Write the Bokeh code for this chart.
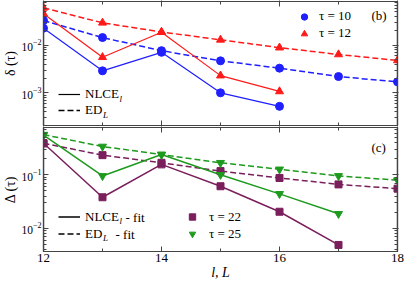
from bokeh.plotting import figure
from bokeh.layouts import column
from bokeh.models import (Legend, LegendItem, Label, LogAxis, LinearAxis,
                          SingleIntervalTicker, LogTicker, Range1d,
                          CustomJSTickFormatter, BoxAnnotation)
from bokeh.embed import file_html
from bokeh.resources import INLINE

# ---------------- data ----------------
l_ed = [12, 13, 14, 15, 16, 17, 18]
l_nlce_b = [12, 13, 14, 15, 16]
l_nlce_c = [12, 13, 14, 15, 16, 17]

b_tau10_nlce = [0.0228, 0.0029, 0.0071, 0.0010, 0.00052]
b_tau10_ed = [0.033, 0.0145, 0.0077, 0.0047, 0.0033, 0.0022, 0.0017]
b_tau12_nlce = [0.046, 0.0056, 0.0188, 0.0023, 0.00107]
b_tau12_ed = [0.061, 0.0296, 0.019, 0.013, 0.0089, 0.0064, 0.0048]

c_tau22_nlce = [0.386, 0.038, 0.156, 0.061, 0.0204, 0.0049]
c_tau22_ed = [0.386, 0.232, 0.167, 0.117, 0.087, 0.066, 0.055]
c_tau25_nlce = [0.55, 0.095, 0.238, 0.100, 0.044, 0.0187]
c_tau25_ed = [0.56, 0.336, 0.238, 0.167, 0.126, 0.095, 0.079]

BLUE = "#1f1fff"
RED = "#ff1a1a"
PURPLE = "#7a1f5c"
GREEN = "#1e9a1e"
AX = "#444444"
FONT = "Liberation Serif"
DASH = "6 3"

FW = 354


def style_axis(ax, labels=True, size="12px"):
    ax.axis_line_color = AX
    ax.axis_line_width = 1.2
    ax.major_tick_line_color = AX
    ax.minor_tick_line_color = AX
    ax.major_tick_in = 5
    ax.major_tick_out = 0
    ax.minor_tick_in = 3
    ax.minor_tick_out = 0
    ax.major_label_text_font = FONT
    ax.major_label_text_color = "black"
    ax.axis_label_text_font = FONT
    ax.axis_label_text_font_style = "normal"
    ax.axis_label_text_color = "black"
    ax.major_label_text_font_size = size
    if labels:
        ax.major_label_standoff = 2
    else:
        ax.formatter = CustomJSTickFormatter(code="return ''")
        ax.major_label_standoff = 0
        ax.major_tick_out = 1
        ax.axis_label = None


def make_fig(yr, fh, top, bottom, ylabel):
    p = figure(frame_width=FW, frame_height=fh, y_axis_type="log",
               x_range=Range1d(12, 18), y_range=Range1d(*yr),
               output_backend="svg", toolbar_location=None,
               min_border_left=43, min_border_right=7,
               min_border_top=top, min_border_bottom=bottom,
               background_fill_color="white")
    p.grid.visible = False
    p.outline_line_color = AX
    p.outline_line_width = 1.2
    p.xaxis.ticker = SingleIntervalTicker(interval=2, num_minor_ticks=2)
    ya = p.left[0]
    ya.ticker = LogTicker(num_minor_ticks=10)
    style_axis(ya, True, "11.5px")
    ya.axis_label = ylabel
    ya.axis_label_text_font_size = "14px"
    ya.axis_label_standoff = 0
    ra = LogAxis(ticker=LogTicker(num_minor_ticks=10))
    style_axis(ra, False)
    p.add_layout(ra, "right")
    ta = LinearAxis(ticker=SingleIntervalTicker(interval=2, num_minor_ticks=2))
    style_axis(ta, False)
    p.add_layout(ta, "above")
    # frame border
    p.add_layout(BoxAnnotation(fill_alpha=0, line_color=AX, line_width=1.2,
                               line_alpha=1))
    return p


def legend(items, loc, gw, standoff, h):
    return Legend(items=items, location=loc, padding=0, margin=0, spacing=0,
                  glyph_width=gw, glyph_height=h, label_height=h,
                  label_standoff=standoff, border_line_alpha=0,
                  background_fill_alpha=0, label_text_font=FONT,
                  label_text_font_size="13px", label_text_color="black")


def lab(p, x, y, text, size="13px", style="normal"):
    p.add_layout(Label(x=x, y=y, x_units="screen", y_units="screen",
                       text=text, text_font=FONT, text_font_size=size,
                       text_font_style=style, text_color="black",
                       text_baseline="middle"))


# ---------------- panel (b) ----------------
pb = make_fig((2.06e-4, 0.083), 124, 1, 0, "δ (τ)")
style_axis(pb.below[0], False)

pb.line(l_nlce_b, b_tau10_nlce, color=BLUE, line_width=1.2)
pb.line(l_ed, b_tau10_ed, color=BLUE, line_width=1.5, line_dash=DASH)
pb.line(l_nlce_b, b_tau12_nlce, color=RED, line_width=1.2)
pb.line(l_ed, b_tau12_ed, color=RED, line_width=1.5, line_dash=DASH)
s10 = pb.scatter(l_nlce_b, b_tau10_nlce, marker="circle", size=8, color=BLUE)
pb.scatter(l_ed, b_tau10_ed, marker="circle", size=8, color=BLUE)
s12 = pb.scatter(l_nlce_b, b_tau12_nlce, marker="triangle", size=8, color=RED)
pb.scatter(l_ed, b_tau12_ed, marker="triangle", size=8, color=RED)

kb_solid = pb.line([12], [1.0], color="black", line_width=1.2)
kb_dash = pb.line([12], [1.0], color="black", line_width=1.5, line_dash=DASH)

pb.add_layout(legend([LegendItem(label="NLCE", renderers=[kb_solid]),
                      LegendItem(label="ED", renderers=[kb_dash])],
                     (15, 7), 22, 5, 16), "center")
pb.add_layout(legend([LegendItem(label="τ = 10", renderers=[s10]),
                      LegendItem(label="τ = 12", renderers=[s12])],
                     (253, 83.5), 16, 7, 17), "center")
lab(pb, 76, 27, "l", "9px", "italic")
lab(pb, 59.5, 11, "L", "9px", "italic")
lab(pb, 328, 110, "(b)", "13px")

# ---------------- panel (c) ----------------
pc = make_fig((0.0037, 0.76), 124, 0, 31, "Δ (τ)")
xa = pc.below[0]
style_axis(xa, True, "13px")
xa.major_label_standoff = 2
xa.axis_label = "l, L"
xa.axis_label_text_font_size = "14px"
xa.axis_label_text_font_style = "italic"
xa.axis_label_standoff = 0

pc.line(l_nlce_c, c_tau22_nlce, color=PURPLE, line_width=1.5)
pc.line(l_ed, c_tau22_ed, color=PURPLE, line_width=1.5, line_dash=DASH)
pc.line(l_nlce_c, c_tau25_nlce, color=GREEN, line_width=1.5)
pc.line(l_ed, c_tau25_ed, color=GREEN, line_width=1.5, line_dash=DASH)
s22 = pc.scatter(l_nlce_c, c_tau22_nlce, marker="square", size=7, color=PURPLE)
pc.scatter(l_ed, c_tau22_ed, marker="square", size=7, color=PURPLE)
s25 = pc.scatter(l_nlce_c, c_tau25_nlce, marker="inverted_triangle", size=8, color=GREEN)
pc.scatter(l_ed, c_tau25_ed, marker="inverted_triangle", size=8, color=GREEN)

kc_solid = pc.line([12], [10.0], color="black", line_width=1.5)
kc_dash = pc.line([12], [10.0], color="black", line_width=1.5, line_dash=DASH)

pc.add_layout(legend([LegendItem(label="NLCE", renderers=[kc_solid]),
                      LegendItem(label="ED", renderers=[kc_dash])],
                     (15, 9), 22, 5, 17), "center")
pc.add_layout(legend([LegendItem(label="τ = 22", renderers=[s22]),
                      LegendItem(label="τ = 25", renderers=[s25])],
                     (141, 9), 16, 9, 17), "center")
lab(pc, 76, 30.5, "l", "9px", "italic")
lab(pc, 82, 34.5, "- fit", "13px")
lab(pc, 59.5, 13.5, "L", "9px", "italic")
lab(pc, 72, 17.5, "- fit", "13px")
lab(pc, 328, 104, "(c)", "13px")

layout = column(pb, pc, spacing=0)
open("out.html", "w").write(file_html(layout, INLINE))
